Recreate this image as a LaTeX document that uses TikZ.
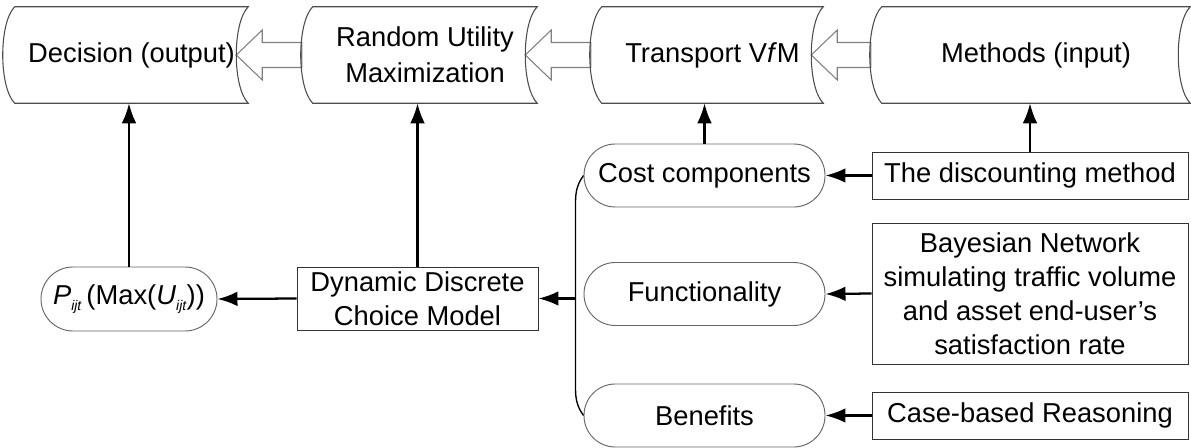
\documentclass[tikz,border=0pt]{standalone}
\usepackage{fontspec}
\setmainfont{Liberation Sans}
\usetikzlibrary{arrows.meta,calc}

\begin{document}
\begin{tikzpicture}[x=0.75pt,y=-0.75pt]
	\tikzstyle{arrow}=[draw, line width=1.7pt, -{Latex[length=15pt,width=11pt]}]
	\tikzstyle{store}=[minimum height=72pt, inner sep=0pt, align=center, font=\fontsize{20.5}{27}\selectfont]
	\tikzstyle{roundbox}=[draw=gray!80!black, line width=0.7pt, rounded corners=23.5pt, minimum height=47.25pt, inner sep=0pt, align=center, font=\fontsize{20.5}{27}\selectfont]
	\tikzstyle{plainbox}=[draw=black!80, line width=0.7pt, inner sep=0pt, align=center, font=\fontsize{20.5}{25.5}\selectfont]
	\newcommand\storeline[1]{\draw[gray!60!black, line width=0.8pt] (#1.north west) -- (#1.north east) .. controls +(-16,16) and +(-16,-16) .. (#1.south east) -- (#1.south west) .. controls +(-16,-16) and +(-16,16) .. (#1.north west);}
	\newcommand\hollowarrow[2]{\draw[gray, line width=0.8pt, fill=white] ($(#2.east)+(-12,0)$) -- ++(26,-25) -- ++(0,12.5) -- ($(#1.west)+(-11,-12.5)$) -- ++(0,25) -- ($(#2.east)+(14,12.5)$) -- ++(0,12.5) -- cycle;}
	\newcommand\sub[1]{\raisebox{-0.25em}{\fontsize{10.5}{10.5}\selectfont\textit{#1}}}

	\useasboundingbox (0,0) rectangle (1191,448);

	 % Top row
	\node [store, minimum width=174.75pt] at (131.5,55) (decision) {Decision (output)};
	\node [store, minimum width=168pt] at (425,55) (random) {Random Utility\\Maximization};
	\node [store, minimum width=165.75pt] at (712.5,55) (transport) {Transport V\textit{f}M};
	\node [store, minimum width=231pt] at (1036,55) (methods) {Methods (input)};

	\hollowarrow{random}{decision}
	\hollowarrow{transport}{random}
	\hollowarrow{methods}{transport}

	\storeline{decision}
	\storeline{random}
	\storeline{transport}
	\storeline{methods}

	 % Components
	\node [roundbox, minimum width=180.75pt] at (704.5,175.5) (cost) {Cost components};
	\node [roundbox, minimum width=180.75pt] at (704.5,294) (func) {Functionality};
	\node [roundbox, minimum width=180.75pt] at (704.5,415.5) (benefits) {Benefits};

	 % Methods
	\node [plainbox, minimum width=237pt, minimum height=35.25pt] at (1030,175.5) (disc) {The discounting method};
	\node [plainbox, minimum width=237pt, minimum height=105.75pt] at (1030,293.5) (bayes) {Bayesian Network\\simulating traffic volume\\and asset end-user’s\\satisfaction rate};
	\node [plainbox, minimum width=237pt, minimum height=35.25pt] at (1030,415.5) (cbr) {Case-based Reasoning};

	 % Model
	\node [plainbox, minimum width=180.75pt, minimum height=47.25pt] at (417.5,298.5) (ddcm) {Dynamic Discrete\\Choice Model};
	\node [roundbox, minimum width=132pt, minimum height=48pt, rounded corners=24pt] at (129,299) (pnode) {\textit{P}\sub{ijt}\,(Max(\textit{U}\sub{ijt}))};

	 % Bracket
	\coordinate (bus) at ($(ddcm.east)+(38,0)$);
	\draw [line width=1pt] (cost.west) .. controls +(-6,8) and +(0,-10) .. ($(cost.west)+(-8,26)$) -- ($(benefits.west)+(-8,-26)$) .. controls +(0,10) and +(-6,-8) .. (benefits.west);

	 % Path Arrows
	\path [arrow] (disc.west) -- (cost.east);
	\path [arrow] (bayes.west) -- (func.east);
	\path [arrow] (cbr.west) -- (benefits.east);
	\path [arrow] (bus) -- (ddcm.east);
	\path [arrow] (ddcm.west) -- (pnode.east);
	\path [arrow] (pnode.north) -- (pnode.north |- decision.south);
	\path [arrow] (ddcm.north) -- (ddcm.north |- random.south);
	\path [arrow] (cost.north) -- (cost.north |- transport.south);
	\path [arrow] (disc.north) -- (disc.north |- methods.south);
\end{tikzpicture}
\end{document}
